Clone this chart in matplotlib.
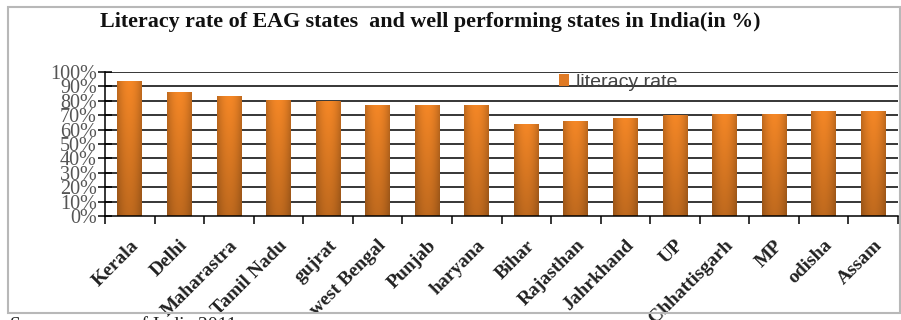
import numpy as np
import matplotlib
matplotlib.use("Agg")
import matplotlib.pyplot as plt
from matplotlib.patches import Rectangle, Patch
from matplotlib.ticker import FixedLocator, FuncFormatter

states = ["Kerala", "Delhi", "Maharastra", "Tamil Nadu", "gujrat", "west Bengal",
          "Punjab", "haryana", "Bihar", "Rajasthan", "Jahrkhand", "UP",
          "Chhattisgarh", "MP", "odisha", "Assam"]
literacy = [94, 86, 83.3, 80.6, 79.6, 77.3, 77.3, 77.3, 64, 66, 68, 70, 71, 71, 73, 73]
y_ticks = list(range(0, 101, 10))

W, H = 901, 320
fig = plt.figure(figsize=(W / 100, H / 100), dpi=100)
fig.patch.set_facecolor("white")

# frame around the whole chart
fig.patches.append(Rectangle((8 / W, 1 - 313 / H), (900 - 8) / W, (313 - 7) / H,
                             transform=fig.transFigure, fill=False,
                             edgecolor="#b8b8b8", lw=1.5))

ax = fig.add_axes([105 / W, 1 - 216 / H, (898 - 105) / W, (216 - 72) / H])

x = np.arange(len(states))
bars = ax.bar(x, literacy, width=0.5, color="#e07a24", zorder=2)

# orange gradient: lighter in the middle, darker at the sides and the bottom
hx = np.linspace(-1, 1, 60)
vy = np.linspace(0, 1, 100)[:, None]
side = 1 - 0.22 * np.abs(hx)[None, :] ** 2
depth = 0.78 + 0.22 * vy
light = side * depth
base = np.array([0.96, 0.53, 0.15])
img = np.clip(base[None, None, :] * light[:, :, None], 0, 1)
for b in bars:
    x0, w, h = b.get_x(), b.get_width(), b.get_height()
    im = ax.imshow(img, extent=(x0, x0 + w, 0, h), origin="lower",
                   aspect="auto", zorder=2.5, interpolation="bilinear")
    im.set_clip_path(b)

ax.set_xlim(-0.5, len(states) - 0.5)
ax.set_ylim(0, 100)

for v in y_ticks[1:]:
    ax.axhline(v, color="black", lw=1.1, zorder=1)

for s in ["top", "right"]:
    ax.spines[s].set_visible(False)
ax.spines["left"].set_linewidth(1.1)
ax.spines["bottom"].set_linewidth(1.1)

ax.yaxis.set_major_locator(FixedLocator(y_ticks))
ax.yaxis.set_major_formatter(FuncFormatter(lambda v, p: f"{int(v)}%"))
ax.tick_params(axis="y", direction="inout", length=10, width=1.1, pad=1,
               labelsize=14.5, labelcolor="#555555")
for lab in ax.get_yticklabels():
    lab.set_fontfamily("Liberation Serif")

# boundary ticks between bars, labels under the bar centres
ax.set_xticks(np.arange(-0.5, len(states), 1.0))
ax.set_xticklabels([])
ax.tick_params(axis="x", which="major", direction="out", length=6, width=1.1)
ax.set_xticks(x, minor=True)
ax.set_xticklabels(states, minor=True, rotation=45, ha="right", va="top",
                   rotation_mode="anchor", fontsize=14, fontweight="bold",
                   family="Liberation Serif", color="#222222")
ax.tick_params(axis="x", which="minor", length=0, pad=15)

leg = ax.legend([Patch(facecolor="#e07a24")], ["literacy rate"],
                loc="upper left", bbox_to_anchor=(0.55, 1.11), frameon=False,
                handlelength=0.55, handleheight=0.55, handletextpad=0.35,
                prop={"family": "Liberation Sans", "size": 14})
for t in leg.get_texts():
    t.set_color("#444444")

fig.text(430 / W, 1 - 22 / H,
         "Literacy rate of EAG states  and well performing states in India(in %)",
         ha="center", va="center", fontsize=15.8, fontweight="bold",
         family="Liberation Serif", color="#111111")

fig.text(10 / W, 1 - 317 / H, "Source: census of India 2011", ha="left",
         va="top", fontsize=14, family="Liberation Serif", color="#222222")

fig.savefig("out.png", dpi=100)
